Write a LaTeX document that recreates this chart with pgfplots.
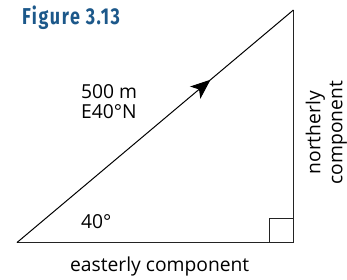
\documentclass[border=0pt]{standalone}
\usepackage{pgfplots}
\pgfplotsset{compat=1.18}
\usepackage{fontspec}
\setmainfont{Open Sans}
\newfontfamily\titlefont[LetterSpace=9]{Fira Sans}
\usetikzlibrary{arrows.meta,decorations.markings}
\definecolor{titleblue}{RGB}{28,88,138}
\definecolor{linegray}{RGB}{35,35,35}
\begin{document}
\begin{tikzpicture}
\begin{axis}[
  scale only axis, width=347bp, height=280bp,
  xmin=0, xmax=347, ymin=0, ymax=280, y dir=reverse,
  hide axis, clip=false,
]
\path (axis cs:0,0) rectangle (axis cs:347,280);
% legs of the triangle
\addplot[linegray, line width=1.1pt, no marks] coordinates {(17,243) (294,243) (294,10)};
% hypotenuse with arrow
\addplot[black, line width=1.0pt, no marks,
  postaction={decorate},
  decoration={markings, mark=at position 0.70 with {\arrow{Stealth[length=20bp,width=16bp,inset=5bp]}}}
] coordinates {(17,243) (294,10)};
% right angle box
\addplot[linegray, line width=1.0pt, no marks] coordinates {(270,243) (270,219) (294,219)};
% labels
\node[anchor=north west, align=left, inner sep=0pt, font=\fontsize{19.3bp}{23bp}\selectfont] at (axis cs:81,84) {500 m\\[-2bp]E40°N};
\node[anchor=center, inner sep=0pt, font=\fontsize{19.3bp}{23bp}\selectfont] at (axis cs:96.5,222) {40°};
\node[anchor=center, inner sep=0pt, font=\fontsize{19.3bp}{23bp}\selectfont] at (axis cs:160,267) {easterly component};
\node[anchor=center, rotate=90, align=center, inner sep=0pt, font=\fontsize{19.3bp}{22bp}\selectfont] at (axis cs:327,133) {northerly\\component};
\node[anchor=west, inner sep=0pt, text=titleblue, font=\titlefont\bfseries\fontsize{23bp}{26bp}\selectfont] at (axis cs:22,18) {\scalebox{0.78}[1]{Figure 3.13}};
\end{axis}
\end{tikzpicture}
\end{document}
